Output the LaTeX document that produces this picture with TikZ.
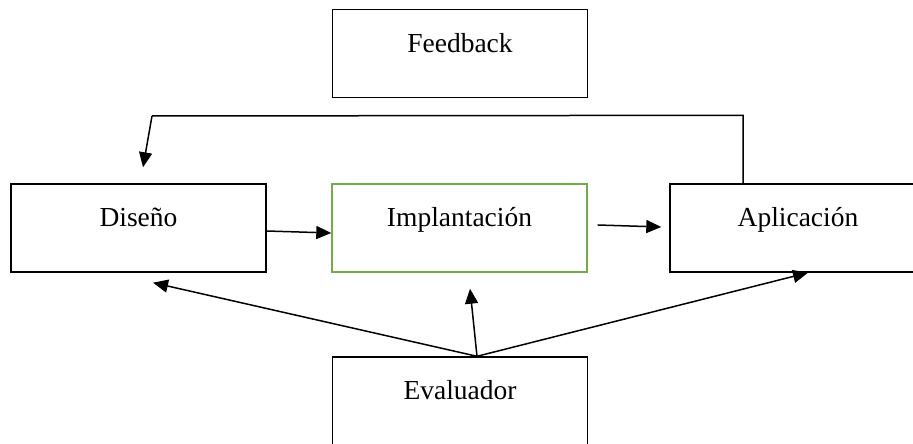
\documentclass[tikz,border=0pt]{standalone}
\usepackage{fontspec}
\setmainfont{Liberation Serif}
\usetikzlibrary{arrows.meta,calc}
\definecolor{boxgreen}{RGB}{112,173,71}
\tikzset{
  box/.style={draw=black, line width=1.4pt, rectangle, inner sep=0pt,
    minimum width=255pt, text height=43pt, text depth=45pt,
    font=\fontsize{27.5pt}{30pt}\selectfont},
  greenbox/.style={box, draw=boxgreen, line width=1.4pt},
  conn/.style={line width=1.5pt, -{Triangle[length=15pt,width=13pt]}},
  plain/.style={line width=1.5pt}
}
\begin{document}
\begin{tikzpicture}[x=1pt,y=1pt]
\useasboundingbox (0,0) rectangle (913,444);
\fill[white] (0,0) rectangle (913,444);
\node[box] (fb) at (460,390.5) {Feedback};
\node[box] (dis) at (138.5,216) {Diseño};
\node[greenbox] (imp) at (459.5,216) {Implantación};
\node[box, minimum width=256pt] (apl) at (798,216) {Aplicación};
\node[box] (ev) at (460,43) {Evaluador};
% feedback loop
\coordinate (fbr) at ($([xshift=-55pt]apl.north)+(0,68)$);
\coordinate (fbl) at (152,328);
\draw[plain] ([xshift=-55pt]apl.north) -- (fbr) -- (fbl);
\draw[conn] (fbl) -- ([xshift=4.5pt,yshift=16pt]dis.north);
% horizontal flow
\draw[conn] ([yshift=-3pt]dis.east) -- ([yshift=-5pt]imp.west);
\draw[conn] ([xshift=10pt,yshift=3pt]imp.east) -- ([xshift=-8pt,yshift=1pt]apl.west);
% evaluator
\coordinate (evs) at ([xshift=17pt]ev.north);
\draw[conn] (evs) -- ([xshift=14.5pt,yshift=-10pt]dis.south);
\draw[conn] (evs) -- ([xshift=10.5pt,yshift=-16pt]imp.south);
\draw[conn] (evs) -- ([xshift=10pt]apl.south);
\end{tikzpicture}
\end{document}
